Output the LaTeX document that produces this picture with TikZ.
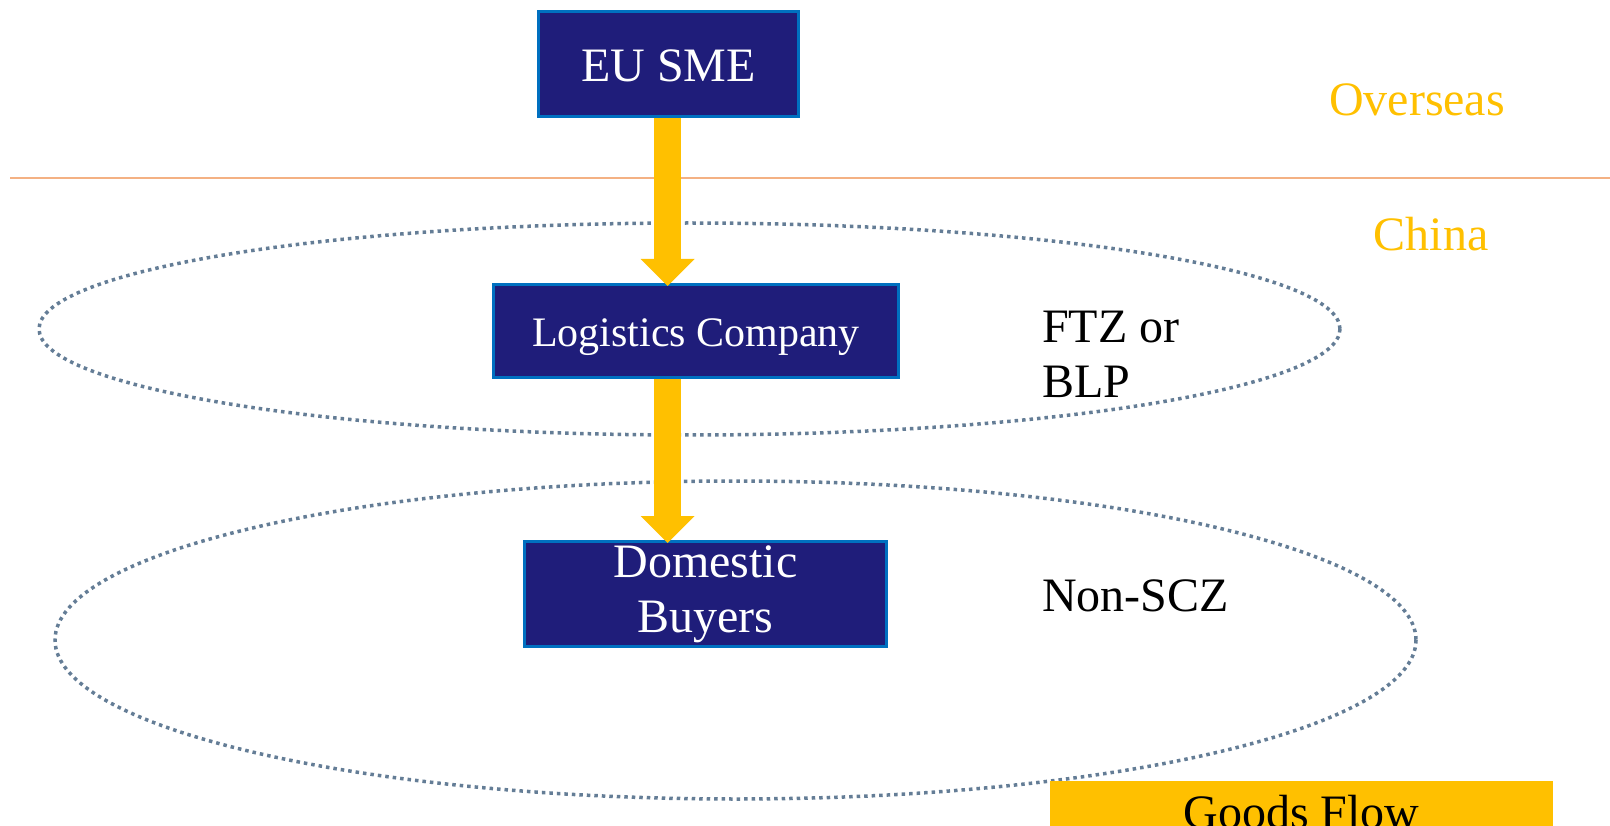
\documentclass[tikz,border=0pt]{standalone}
\usepackage{fontspec}
\setmainfont{Liberation Serif}
\usetikzlibrary{arrows.meta,calc}
\definecolor{navy}{RGB}{31,29,122}
\definecolor{bordblue}{RGB}{0,112,192}
\definecolor{gold}{RGB}{255,192,0}
\definecolor{peach}{RGB}{244,177,131}
\definecolor{slate}{RGB}{100,125,150}
\begin{document}
\begin{tikzpicture}[x=1pt,y=-1pt,
  box/.style={draw=bordblue, line width=3pt, fill=navy, text=white, inner sep=0pt, align=center},
  zone/.style={draw=slate, line width=3.5pt, dash pattern=on 3.5pt off 4pt},
  flowarrow/.style={draw=gold, line width=27pt, -{Triangle[length=27pt,width=54pt,line width=0pt]}},
  big/.style={font=\fontsize{48}{55}\selectfont},
  mid/.style={font=\fontsize{42}{50}\selectfont},
  region/.style={big, text=gold, inner sep=0pt},
  zonelabel/.style={big, text=black, inner sep=0pt, align=left, anchor=west}]
\useasboundingbox (0,0) rectangle (1610,826);
\fill[white] (0,0) rectangle (1610,826);

% divider line
\coordinate (l0) at (10,178);
\coordinate (l1) at (1610,178);
\draw[peach, line width=2pt] (l0) -- (l1);

% zones
\draw[zone] (689.5,329) ellipse [x radius=650.5, y radius=106];
\draw[zone] (735.5,640) ellipse [x radius=680.5, y radius=159];

% region labels
\node[region] (overseas) at (1417,100) {Overseas};
\node[region] (china) at (1431,234) {China};

% zone labels
\node[zonelabel] (ftz) at (1042,354.5) {FTZ or\\BLP};
\node[zonelabel] (nonscz) at (1042,596) {Non-SCZ};

% boxes
\node[box, big, minimum width=260pt, minimum height=105pt, text height=36pt, text depth=0pt] (eu) at (668.5,64) {EU SME};
\node[box, mid, minimum width=405pt, minimum height=93pt, text height=32pt, text depth=0pt] (lc) at (696,331) {Logistics Company};
\node[box, big, minimum width=362pt, minimum height=105pt, yshift=0pt] (db) at (705.5,594) {Domestic\\Buyers};

% arrows
\coordinate (ax) at (667.5,0);
\draw[flowarrow] (eu.south -| ax) -- ($(lc.north -| ax)+(0,3)$);
\draw[flowarrow] (lc.south -| ax) -- ($(db.north -| ax)+(0,3)$);

% legend
\node[fill=gold, big, minimum width=503pt, minimum height=62pt, inner sep=0pt] (gf) at (1301.5,812) {Goods Flow};
\end{tikzpicture}
\end{document}
